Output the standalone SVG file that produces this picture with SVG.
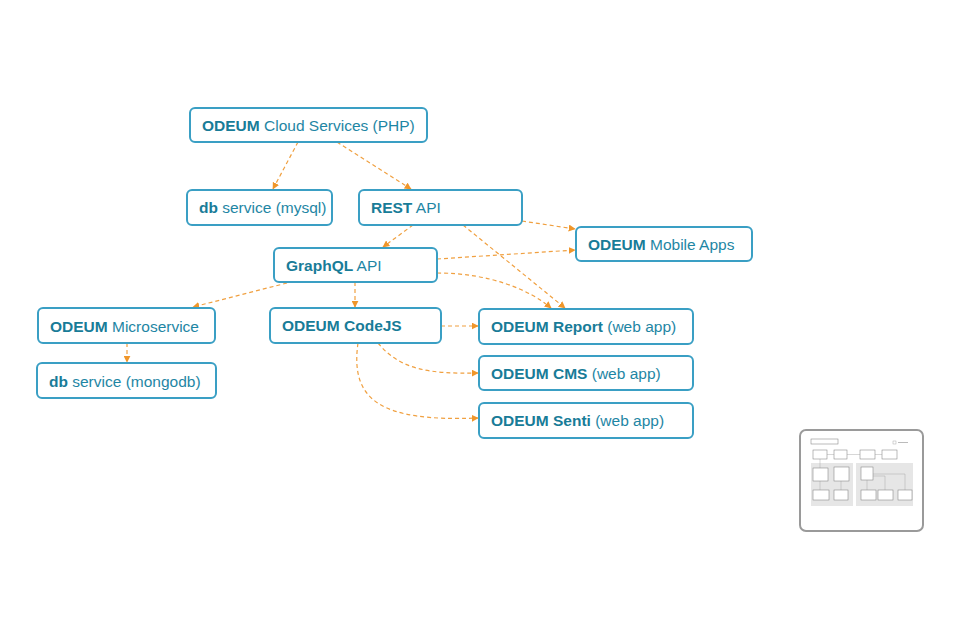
<svg xmlns="http://www.w3.org/2000/svg" width="960" height="640" viewBox="0 0 960 640">
<style>
.node rect{fill:#fff;stroke:#3a9fc4;stroke-width:2}
.node text{font-family:"Liberation Sans",Arial,sans-serif;font-size:15.5px;fill:#1e86a4}
.node text tspan.b{font-weight:bold;fill:#187c98}
.edge{fill:none;stroke:#f0a040;stroke-width:1.2;stroke-dasharray:4 3;marker-end:url(#ah)}
.mini rect{stroke:none}
</style>
<defs>
<marker id="ah" viewBox="0 0 10 10" refX="9" refY="5" markerWidth="7" markerHeight="7" markerUnits="userSpaceOnUse" orient="auto">
<path d="M0,0 L10,5 L0,10 z" fill="#f0962a"/>
</marker>
</defs>
<rect width="960" height="640" fill="#fff"/>
<g id="connectors">
<path class="edge" d="M298,142 L273,189"/>
<path class="edge" d="M337,142 L411,189"/>
<path class="edge" d="M413,225 L383,247"/>
<path class="edge" d="M522,221 L575,229"/>
<path class="edge" d="M463,225 L565,308"/>
<path class="edge" d="M437,259 L575,250"/>
<path class="edge" d="M437,273 C490,273 530,290 551,308"/>
<path class="edge" d="M287,283 L193,307"/>
<path class="edge" d="M355,282 L355,307"/>
<path class="edge" d="M127,343 L127,362"/>
<path class="edge" d="M441,326 L478,326"/>
<path class="edge" d="M378,343 C400,370 430,374 478,373"/>
<path class="edge" d="M358,343 C350,400 380,422 478,418"/>
</g>
<g id="n-cloud" class="node"><rect x="190" y="108" width="237" height="34" rx="5"/><text x="202" y="131"><tspan class="b">ODEUM</tspan> Cloud Services (PHP)</text></g>
<g id="n-mysql" class="node"><rect x="187" y="190" width="145" height="35" rx="5"/><text x="199" y="213"><tspan class="b">db</tspan> service (mysql)</text></g>
<g id="n-rest" class="node"><rect x="359" y="190" width="163" height="35" rx="5"/><text x="371" y="213"><tspan class="b">REST</tspan> API</text></g>
<g id="n-mobile" class="node"><rect x="576" y="227" width="176" height="34" rx="5"/><text x="588" y="250"><tspan class="b">ODEUM</tspan> Mobile Apps</text></g>
<g id="n-graphql" class="node"><rect x="274" y="248" width="163" height="34" rx="5"/><text x="286" y="271"><tspan class="b">GraphQL</tspan> API</text></g>
<g id="n-micro" class="node"><rect x="38" y="308" width="177" height="35" rx="5"/><text x="50" y="332"><tspan class="b">ODEUM</tspan> Microservice</text></g>
<g id="n-codejs" class="node"><rect x="270" y="308" width="171" height="35" rx="5"/><text x="282" y="331"><tspan class="b">ODEUM CodeJS</tspan></text></g>
<g id="n-report" class="node"><rect x="479" y="309" width="214" height="35" rx="5"/><text x="491" y="332"><tspan class="b">ODEUM Report</tspan> (web app)</text></g>
<g id="n-mongo" class="node"><rect x="37" y="363" width="179" height="35" rx="5"/><text x="49" y="387"><tspan class="b">db</tspan> service (mongodb)</text></g>
<g id="n-cms" class="node"><rect x="479" y="356" width="214" height="34" rx="5"/><text x="491" y="379"><tspan class="b">ODEUM CMS</tspan> (web app)</text></g>
<g id="n-senti" class="node"><rect x="479" y="403" width="214" height="35" rx="5"/><text x="491" y="426"><tspan class="b">ODEUM Senti</tspan> (web app)</text></g>
<g id="minimap">
<rect x="800" y="430" width="123" height="101" rx="6" fill="#fff" stroke="#9a9a9a" stroke-width="2"/>
<g class="mini">
<rect x="811" y="463" width="42" height="43" fill="#e6e6e6"/>
<rect x="856" y="463" width="57" height="43" fill="#e6e6e6"/>
</g>
<g fill="#fff" stroke="#777" stroke-width="0.5">
<rect x="811" y="439" width="27" height="5"/>
<rect x="813" y="450" width="14" height="9"/>
<rect x="834" y="450" width="13" height="9"/>
<rect x="860" y="450" width="15" height="9"/>
<rect x="882" y="450" width="15" height="9"/>
<rect x="813" y="468" width="15" height="13"/>
<rect x="834" y="467" width="15" height="14"/>
<rect x="813" y="490" width="16" height="10"/>
<rect x="834" y="490" width="14" height="10"/>
<rect x="861" y="467" width="12" height="13"/>
<rect x="861" y="490" width="15" height="10"/>
<rect x="878" y="490" width="15" height="10"/>
<rect x="898" y="490" width="14" height="10"/>
</g>
<g fill="none" stroke="#999" stroke-width="0.4">
<path d="M827,454.5 H834 M847,454.5 H860 M875,454.5 H882 M820,459 V468 M841,481 V490 M820,481 V490 M867,480 V490 M873,474 H905 V490 M873,476 H885 V490"/>
</g>
<rect x="893" y="441" width="3" height="3" fill="none" stroke="#999" stroke-width="0.4"/>
<rect x="898" y="442" width="10" height="1" fill="#bbb"/>
</g>
</svg>
